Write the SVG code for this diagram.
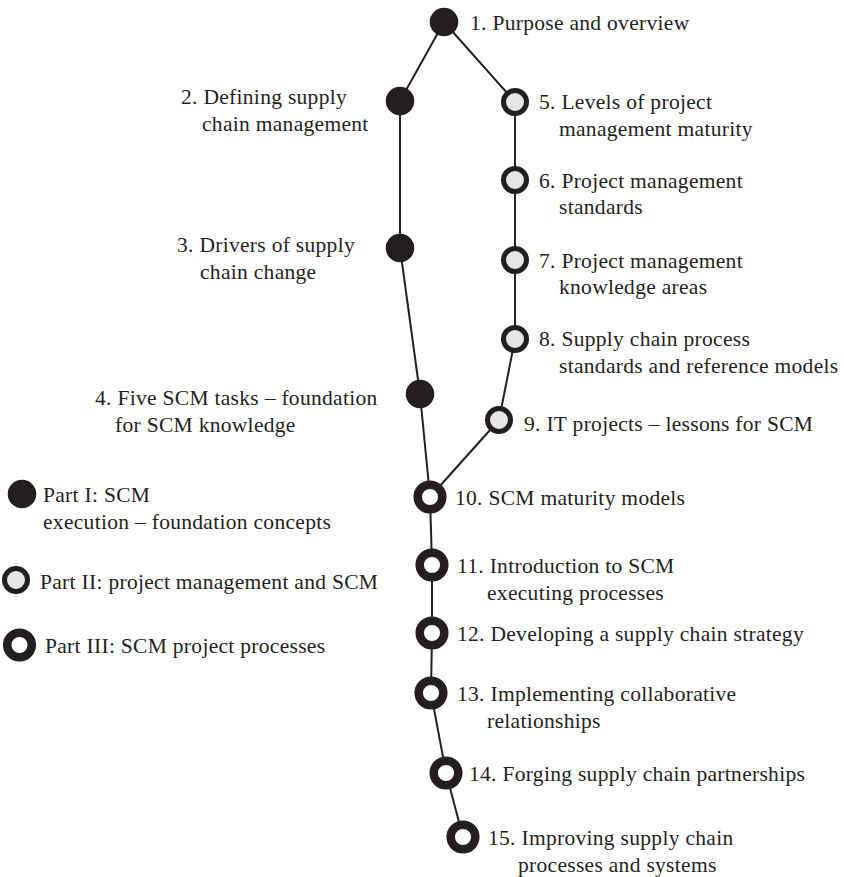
<svg xmlns="http://www.w3.org/2000/svg" width="844" height="877" viewBox="0 0 844 877">
<style>
text{font-family:"Liberation Serif","DejaVu Serif",serif;font-size:21.5px;letter-spacing:0.3px;fill:#231f20}
.p1{fill:#231f20}
.p2{fill:#e6e7e8;stroke:#231f20;stroke-width:5}
.p3{fill:#fff;stroke:#231f20;stroke-width:8.5}
.c line{stroke:#231f20;stroke-width:2}
</style>
<rect width="844" height="877" fill="#fff"/>
<g class="c" id="connectors">
<line x1="444" y1="22" x2="400" y2="101"/>
<line x1="444" y1="22" x2="515" y2="102"/>
<line x1="400" y1="101" x2="400" y2="248"/>
<line x1="400" y1="248" x2="420" y2="394"/>
<line x1="420" y1="394" x2="430" y2="497"/>
<line x1="515" y1="102" x2="515" y2="180"/>
<line x1="515" y1="180" x2="515" y2="260"/>
<line x1="515" y1="260" x2="515" y2="339"/>
<line x1="515" y1="339" x2="499" y2="420"/>
<line x1="499" y1="420" x2="430" y2="497"/>
<line x1="430" y1="497" x2="432" y2="565"/>
<line x1="432" y1="565" x2="432" y2="633"/>
<line x1="432" y1="633" x2="431" y2="693"/>
<line x1="431" y1="693" x2="446" y2="773"/>
<line x1="446" y1="773" x2="463" y2="837"/>
</g>
<g id="n1"><circle class="p1" cx="444" cy="22" r="14.3"/><text x="470" y="30">1. Purpose and overview</text></g>
<g id="n2"><circle class="p1" cx="400" cy="101" r="14.3"/><text x="181" y="104">2. Defining supply</text><text x="202" y="131">chain management</text></g>
<g id="n3"><circle class="p1" cx="400" cy="248" r="14.3"/><text x="177" y="252">3. Drivers of supply</text><text x="200" y="279">chain change</text></g>
<g id="n4"><circle class="p1" cx="420" cy="394" r="14.3"/><text x="95" y="405">4. Five SCM tasks – foundation</text><text x="115" y="432">for SCM knowledge</text></g>
<g id="n5"><circle class="p2" cx="515" cy="102" r="11.5"/><text x="539" y="109">5. Levels of project</text><text x="559" y="136">management maturity</text></g>
<g id="n6"><circle class="p2" cx="515" cy="180" r="11.5"/><text x="539" y="188">6. Project management</text><text x="559" y="214">standards</text></g>
<g id="n7"><circle class="p2" cx="515" cy="260" r="11.5"/><text x="539" y="268">7. Project management</text><text x="559" y="294">knowledge areas</text></g>
<g id="n8"><circle class="p2" cx="515" cy="339" r="11.5"/><text x="539" y="346">8. Supply chain process</text><text x="559" y="373">standards and reference models</text></g>
<g id="n9"><circle class="p2" cx="499" cy="420" r="11.5"/><text x="524" y="431">9. IT projects – lessons for SCM</text></g>
<g id="n10"><circle class="p3" cx="430" cy="497" r="12.3"/><text x="455" y="505">10. SCM maturity models</text></g>
<g id="n11"><circle class="p3" cx="432" cy="565" r="12.3"/><text x="457" y="573">11. Introduction to SCM</text><text x="487" y="600">executing processes</text></g>
<g id="n12"><circle class="p3" cx="432" cy="633" r="12.3"/><text x="457" y="641">12. Developing a supply chain strategy</text></g>
<g id="n13"><circle class="p3" cx="431" cy="693" r="12.3"/><text x="457" y="701">13. Implementing collaborative</text><text x="487" y="728">relationships</text></g>
<g id="n14"><circle class="p3" cx="446" cy="773" r="12.3"/><text x="469" y="781">14. Forging supply chain partnerships</text></g>
<g id="n15"><circle class="p3" cx="463" cy="837" r="12.3"/><text x="488" y="845">15. Improving supply chain</text><text x="518" y="872">processes and systems</text></g>
<g id="legend">
<g id="leg1"><circle class="p1" cx="22" cy="494" r="14.3"/><text x="43" y="502">Part I: SCM</text><text x="43" y="529">execution – foundation concepts</text></g>
<g id="leg2"><circle class="p2" cx="16" cy="580" r="11.5"/><text x="40" y="589">Part II: project management and SCM</text></g>
<g id="leg3"><circle class="p3" cx="19.5" cy="645" r="12.3"/><text x="45" y="653">Part III: SCM project processes</text></g>
</g>
</svg>
